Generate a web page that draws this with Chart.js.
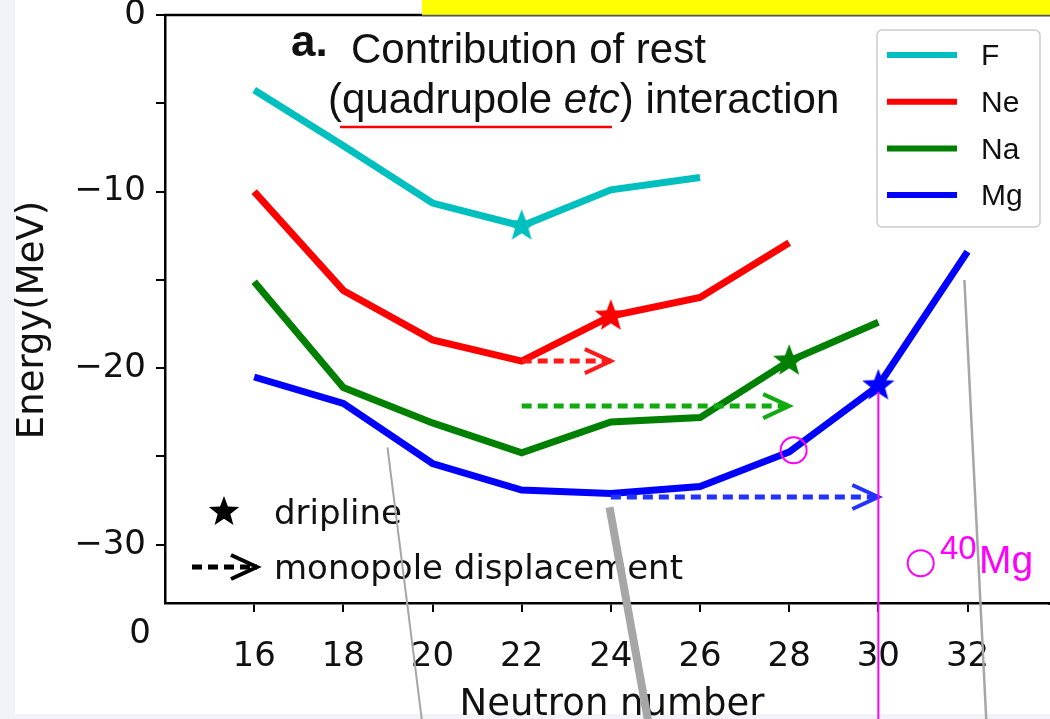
<!DOCTYPE html>
<html>
<head>
<meta charset="utf-8">
<script src="https://cdn.jsdelivr.net/npm/chart.js@4/dist/chart.umd.min.js"></script>
<style>
  html, body { margin: 0; padding: 0; background: #fff; }
  canvas { display: block; }
</style>
</head>
<body>
<canvas id="myChart" width="1050" height="719"></canvas>
<script>
    // values
    const neutrons = [16, 18, 20, 22, 24, 26, 28, 30, 32];
    const energyF  = [-4.25, -7.4, -10.65, -11.95, -9.9, -9.2];
    const energyNe = [-10.0, -15.6, -18.4, -19.6, -17.05, -16.0, -12.9];
    const energyNa = [-15.1, -21.1, -23.1, -24.8, -23.05, -22.8, -19.6, -17.4];
    const energyMg = [-20.5, -22.0, -25.4, -26.9, -27.1, -26.7, -24.75, -21.0, -13.4];
    const elements = ['F', 'Ne', 'Na', 'Mg'];
    const driplineN = [22, 24, 28, 30];

    // monopole displacement arrows (Ne, Na, Mg)
    const arrowFromN = [22, 22, 24];
    const arrowToN   = [24, 28, 30];
    const arrowE     = [-19.6, -22.15, -27.3];

    // 40Mg circles
    const mg40N = [28.1, 30.95];
    const mg40E = [-24.65, -31.05];

    const xTickValues = [16, 18, 20, 22, 24, 26, 28, 30, 32];
    const yTickValues = [-30, -25, -20, -15, -10, -5, 0];

    const lineColors  = ['#00bfbf', '#ff0000', '#008000', '#0000ff'];
    const arrowColors = ['#ff1a1a', '#11aa11', '#2233ff'];
    const allEnergies = [energyF, energyNe, energyNa, energyMg];

    function makeStar(color, r) {
        const c = document.createElement('canvas');
        c.width = c.height = 2 * r + 2;
        const g = c.getContext('2d');
        g.fillStyle = color;
        g.beginPath();
        for (let i = 0; i < 10; i++) {
            const rad = i % 2 ? r * 0.42 : r;
            const a = -Math.PI / 2 + i * Math.PI / 5;
            g.lineTo(r + 1 + rad * Math.cos(a), r + 1 + rad * Math.sin(a));
        }
        g.closePath();
        g.fill();
        return c;
    }

    const datasets = elements.map((el, k) => {
        const star = makeStar(lineColors[k], 17);
        return {
            label: el,
            data: allEnergies[k].map((v, i) => ({ x: neutrons[i], y: v })),
            borderColor: lineColors[k],
            backgroundColor: lineColors[k],
            borderWidth: 7,
            fill: false,
            tension: 0,
            pointStyle: star,
            pointBorderWidth: 0,
            pointRadius: ctx => (ctx.raw && ctx.raw.x === driplineN[k]) ? 17 : 0,
            pointHoverRadius: 0
        };
    });

    function drawArrow(ctx, x1, x2, y, color, width) {
        ctx.save();
        ctx.strokeStyle = color;
        ctx.lineWidth = width;
        ctx.setLineDash([10, 6]);
        ctx.beginPath();
        ctx.moveTo(x1, y);
        ctx.lineTo(x2, y);
        ctx.stroke();
        ctx.setLineDash([]);
        ctx.lineWidth = width - 1;
        ctx.beginPath();
        ctx.moveTo(x2 - 26, y - 12);
        ctx.lineTo(x2, y);
        ctx.lineTo(x2 - 26, y + 12);
        ctx.stroke();
        ctx.restore();
    }

    const overlay = {
        id: 'overlay',
        beforeDraw(chart) {
            const ctx = chart.ctx;
            ctx.save();
            ctx.fillStyle = '#ffffff';
            ctx.fillRect(0, 0, chart.width, chart.height);
            ctx.fillStyle = '#f1f3f8';
            ctx.fillRect(0, 0, 15, chart.height);
            ctx.fillRect(0, 714, chart.width, 5);
            ctx.restore();
        },
        afterDatasetsDraw(chart) {
            const ctx = chart.ctx;
            const xs = chart.scales.x, ys = chart.scales.y;
            const area = chart.chartArea;

            // spines: top, and extend the bottom one to the edge
            ctx.save();
            ctx.strokeStyle = '#000';
            ctx.lineWidth = 2.5;
            ctx.beginPath();
            ctx.moveTo(area.left - 1, area.top);
            ctx.lineTo(chart.width, area.top);
            ctx.moveTo(area.right - 2, area.bottom + 0.5);
            ctx.lineTo(chart.width, area.bottom + 0.5);
            ctx.stroke();
            ctx.restore();

            // monopole displacement arrows
            arrowFromN.forEach((n, i) => {
                drawArrow(ctx, xs.getPixelForValue(n), xs.getPixelForValue(arrowToN[i]),
                    ys.getPixelForValue(arrowE[i]), arrowColors[i], 5);
            });

            // 40Mg circles
            ctx.save();
            ctx.strokeStyle = '#ff00ff';
            ctx.lineWidth = 2;
            mg40N.forEach((n, i) => {
                ctx.beginPath();
                ctx.arc(xs.getPixelForValue(n), ys.getPixelForValue(mg40E[i]), 13, 0, Math.PI * 2);
                ctx.stroke();
            });

            // 40Mg vertical line at the Mg dripline
            const vx = xs.getPixelForValue(driplineN[3]);
            ctx.beginPath();
            ctx.moveTo(vx, ys.getPixelForValue(energyMg[7]) + 6);
            ctx.lineTo(vx, chart.height);
            ctx.stroke();
            ctx.restore();

            // title text
            ctx.save();
            ctx.fillStyle = '#111';
            ctx.textBaseline = 'alphabetic';
            ctx.font = 'bold 44px "Liberation Sans", Arial, sans-serif';
            ctx.fillText('a.', 291, 56);
            ctx.font = '42px "Liberation Sans", Arial, sans-serif';
            ctx.fillText('Contribution of rest', 351, 63);
            let x = 328;
            ctx.fillText('(quadrupole ', x, 113);
            x += ctx.measureText('(quadrupole ').width;
            ctx.font = 'italic 42px "Liberation Sans", Arial, sans-serif';
            ctx.fillText('etc', x, 113);
            x += ctx.measureText('etc').width;
            ctx.font = '42px "Liberation Sans", Arial, sans-serif';
            ctx.fillText(') interaction', x, 113);
            ctx.strokeStyle = '#ff0000';
            ctx.lineWidth = 2.5;
            ctx.beginPath();
            ctx.moveTo(340, 127);
            ctx.lineTo(612, 127);
            ctx.stroke();
            ctx.restore();

            // legend box
            ctx.save();
            ctx.fillStyle = '#fff';
            ctx.strokeStyle = '#cccccc';
            ctx.lineWidth = 1.5;
            ctx.beginPath();
            ctx.roundRect(877, 30, 163, 197, 5);
            ctx.fill();
            ctx.stroke();
            ctx.font = '30px "Liberation Sans", Arial, sans-serif';
            ctx.textBaseline = 'middle';
            elements.forEach((el, k) => {
                const y = 55 + k * 46.7;
                ctx.strokeStyle = lineColors[k];
                ctx.lineWidth = 6;
                ctx.beginPath();
                ctx.moveTo(887, y);
                ctx.lineTo(957, y);
                ctx.stroke();
                ctx.fillStyle = '#111';
                ctx.fillText(el, 981, y + 2);
            });
            ctx.restore();

            // bottom-left legend
            ctx.save();
            ctx.drawImage(makeStar('#000', 16), 224 - 17, 512 - 17);
            drawArrow(ctx, 192, 257, 567, '#000', 5);
            ctx.fillStyle = '#111';
            ctx.font = '34px "DejaVu Sans", sans-serif';
            ctx.textBaseline = 'alphabetic';
            ctx.fillText('dripline', 274, 524);
            ctx.fillText('monopole displacement', 274, 579);
            ctx.restore();

            // 40Mg label
            ctx.save();
            ctx.fillStyle = '#ff00ff';
            ctx.font = '33px "Liberation Sans", Arial, sans-serif';
            ctx.fillText('40', 940, 559);
            ctx.font = '39px "Liberation Sans", Arial, sans-serif';
            ctx.fillText('Mg', 979, 573);
            ctx.restore();

            // axis titles and stray label
            ctx.save();
            ctx.fillStyle = '#111';
            ctx.font = '37px "DejaVu Sans", sans-serif';
            ctx.textAlign = 'center';
            ctx.fillText('Neutron number', 612, 715);
            ctx.font = '34px "DejaVu Sans", sans-serif';
            ctx.fillText('0', 140, 643);
            ctx.font = '37px "DejaVu Sans", sans-serif';
            ctx.translate(43, 320);
            ctx.rotate(-Math.PI / 2);
            ctx.fillText('Energy(MeV)', 0, 0);
            ctx.restore();

            // yellow box at top
            ctx.save();
            ctx.fillStyle = '#ffff00';
            ctx.fillRect(422, 0, chart.width - 422, 15);
            ctx.strokeStyle = '#555';
            ctx.lineWidth = 1.5;
            ctx.beginPath();
            ctx.moveTo(422, 15.5);
            ctx.lineTo(chart.width, 15.5);
            ctx.stroke();
            ctx.restore();
        },
        afterDraw(chart) {
            // grey slide pointer lines
            const ctx = chart.ctx;
            const xs = chart.scales.x, ys = chart.scales.y;
            const pointers = [
                [18.99, -24.48, 19.76, -39.9, 2],
                [23.97, -27.88, 24.83, -39.9, 8],
                [31.93, -15.01, 32.42, -39.9, 2.5]
            ];
            ctx.save();
            ctx.strokeStyle = '#a6a6a6';
            pointers.forEach(p => {
                ctx.lineWidth = p[4];
                ctx.beginPath();
                ctx.moveTo(xs.getPixelForValue(p[0]), ys.getPixelForValue(p[1]));
                ctx.lineTo(xs.getPixelForValue(p[2]), ys.getPixelForValue(p[3]));
                ctx.stroke();
            });
            ctx.restore();
        }
    };

    const ctx = document.getElementById('myChart').getContext('2d');
    new Chart(ctx, {
        type: 'line',
        data: { datasets: datasets },
        options: {
            responsive: false,
            animation: false,
            devicePixelRatio: 1,
            layout: { padding: { top: 15, right: 0, left: 0, bottom: 0 } },
            plugins: {
                legend: { display: false },
                tooltip: { enabled: false }
            },
            scales: {
                x: {
                    type: 'linear',
                    min: 14,
                    max: 33.85,
                    afterFit: s => { s.height = 116; s.paddingLeft = 0; s.paddingRight = 0; },
                    afterBuildTicks: s => { s.ticks = xTickValues.map(v => ({ value: v })); },
                    border: { display: true, color: '#000', width: 2.5 },
                    grid: { drawOnChartArea: false, drawTicks: true, tickLength: 9, color: '#000', lineWidth: 2 },
                    ticks: {
                        color: '#111',
                        padding: 25,
                        maxRotation: 0,
                        font: { family: 'DejaVu Sans', size: 34 },
                        callback: v => String(v)
                    }
                },
                y: {
                    min: -33.3,
                    max: 0,
                    afterFit: s => { s.width = 165; s.paddingTop = 0; s.paddingBottom = 0; },
                    afterBuildTicks: s => { s.ticks = yTickValues.map(v => ({ value: v })); },
                    border: { display: true, color: '#000', width: 2.5 },
                    grid: { drawOnChartArea: false, drawTicks: true, tickLength: 9, color: '#000', lineWidth: 2 },
                    ticks: {
                        color: '#111',
                        padding: 10,
                        font: { family: 'DejaVu Sans', size: 34 },
                        callback: v => (v % 10 === 0 ? (v < 0 ? '\u2212' + Math.abs(v) : String(v)) : '')
                    }
                }
            }
        },
        plugins: [overlay]
    });
</script>
</body>
</html>
